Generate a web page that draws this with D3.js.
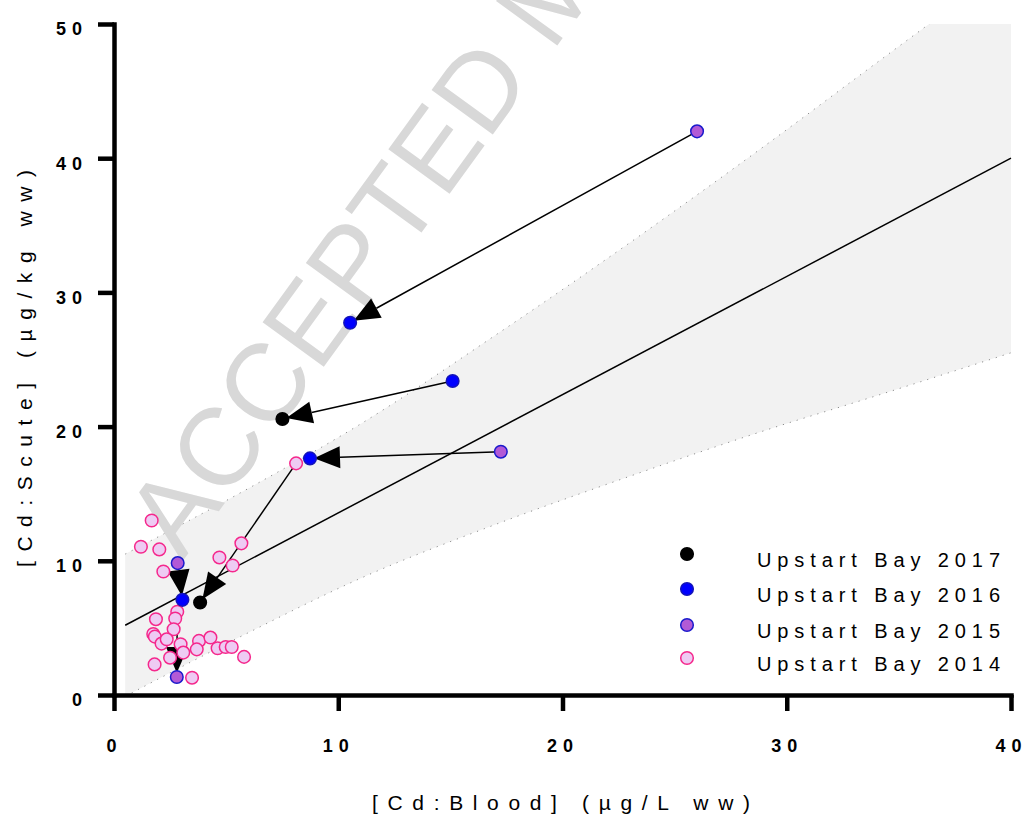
<!DOCTYPE html>
<html>
<head>
<meta charset="utf-8">
<script src="https://cdn.jsdelivr.net/npm/d3@7"></script>
<style>
  body { margin: 0; background: #fff; }
  svg { display: block; font-family: "Liberation Sans", Arial, sans-serif; }
</style>
</head>
<body>
<div id="chart"></div>
<script>
// values: [blood, scute]
const pts2017 = [[7.51, 20.57], [3.84, 6.89]];
const pts2016 = [[10.53, 27.74], [15.1, 23.4], [8.74, 17.63], [3.05, 7.09]];
const pts2015 = [[26.0, 42.0], [17.25, 18.13], [2.84, 9.83], [2.8, 1.34]];
const pts2014 = [
  [1.68, 13.0], [1.2, 11.05], [2.02, 10.85], [2.2, 9.2], [4.7, 10.25],
  [5.68, 11.3], [5.29, 9.65], [8.12, 17.26], [2.82, 6.2], [1.87, 5.65],
  [2.73, 5.7], [2.66, 4.9], [1.75, 4.55], [1.82, 4.35], [2.12, 3.83],
  [2.35, 4.15], [2.97, 3.78], [3.79, 4.03], [4.3, 4.28], [3.69, 3.4],
  [4.62, 3.48], [4.98, 3.58], [5.25, 3.58], [3.09, 3.16], [5.8, 2.84],
  [2.5, 2.78], [1.81, 2.28], [3.48, 1.29]
];

// same animal, earlier year -> later year
const moves = [
  [[26.0, 42.0], [10.53, 27.74]],
  [[15.1, 23.4], [7.51, 20.57]],
  [[17.25, 18.13], [8.74, 17.63]],
  [[8.12, 17.26], [3.84, 6.89]],
  [[2.84, 9.83], [3.05, 7.09]],
  [[2.82, 6.2], [2.8, 1.34]]
];

// regression line and prediction band
const fitLine = [[0.5, 5.2], [40, 40.0]];
const bandX = [0.5, 6, 11, 17, 23, 29, 34, 40];
const bandUpper = [10.5, 15.4, 20.2, 26.8, 33.7, 40.9, 47.1, 54.5];
const bandLower = [-0.1, 4.65, 8.7, 12.7, 16.3, 19.7, 22.3, 25.5];

const xTicks = [0, 10, 20, 30, 40];
const yTicks = [0, 10, 20, 30, 40, 50];

const seriesNames = ["Upstart Bay 2017", "Upstart Bay 2016", "Upstart Bay 2015", "Upstart Bay 2014"];

function drawChart() {
  const width = 1024;
  const height = 820;

  const svg = d3.select("#chart")
    .append("svg")
    .attr("width", width)
    .attr("height", height);

  const x = d3.scaleLinear().domain([0, 40]).range([114, 1011]);
  const y = d3.scaleLinear().domain([0, 50]).range([695, 24]);

  const styles = [
    { data: pts2017, fill: "#000000", stroke: "#000000" },
    { data: pts2016, fill: "#0000ff", stroke: "#1414b8" },
    { data: pts2015, fill: "#b25ad6", stroke: "#1a1acc" },
    { data: pts2014, fill: "#eecbf3", stroke: "#f5288c" }
  ];

  svg.append("clipPath")
    .attr("id", "plot-clip")
    .append("rect")
    .attr("x", x(0))
    .attr("y", y(50))
    .attr("width", x(40) - x(0) + 2)
    .attr("height", y(0) - y(50));

  const band = bandX.map((v, i) => ({ x: v, lo: bandLower[i], hi: bandUpper[i] }));

  // shaded band
  svg.append("path")
    .datum(band)
    .attr("clip-path", "url(#plot-clip)")
    .attr("fill", "#f2f2f2")
    .attr("d", d3.area()
      .x(d => x(d.x))
      .y0(d => y(d.lo))
      .y1(d => y(d.hi))
      .curve(d3.curveMonotoneX));

  // dotted band edges
  ["hi", "lo"].forEach(k => {
    svg.append("path")
      .datum(band)
      .attr("clip-path", "url(#plot-clip)")
      .attr("fill", "none")
      .attr("stroke", "#8c8c8c")
      .attr("stroke-width", 1)
      .attr("stroke-dasharray", "1.2,6")
      .attr("d", d3.line()
        .x(d => x(d.x))
        .y(d => y(d[k]))
        .curve(d3.curveMonotoneX));
  });

  // watermark
  svg.append("text")
    .attr("transform", "translate(182,562) rotate(-54)")
    .attr("fill", "#d8d8d8")
    .style("font-size", "110px")
    .text("ACCEPTED MANUSCRIPT");

  // fit line
  svg.append("path")
    .datum(fitLine)
    .attr("fill", "none")
    .attr("stroke", "#000")
    .attr("stroke-width", 1.5)
    .attr("d", d3.line().x(d => x(d[0])).y(d => y(d[1])));

  // arrows between years
  moves.forEach(m => {
    const x1 = x(m[0][0]), y1 = y(m[0][1]);
    const x2 = x(m[1][0]), y2 = y(m[1][1]);
    const len = Math.hypot(x2 - x1, y2 - y1);
    const ux = (x2 - x1) / len, uy = (y2 - y1) / len;
    const tx = x2 - ux * 4, ty = y2 - uy * 4;
    const bx = tx - ux * 26, by = ty - uy * 26;
    svg.append("line")
      .attr("x1", x1).attr("y1", y1)
      .attr("x2", bx).attr("y2", by)
      .attr("stroke", "#000")
      .attr("stroke-width", 1.5);
    svg.append("path")
      .attr("fill", "#000")
      .attr("d", `M${tx},${ty}L${bx - uy * 11},${by + ux * 11}L${bx + uy * 11},${by - ux * 11}Z`);
  });

  // points, oldest year first
  styles.slice().reverse().forEach(s => {
    svg.append("g")
      .selectAll("circle")
      .data(s.data)
      .join("circle")
      .attr("cx", d => x(d[0]))
      .attr("cy", d => y(d[1]))
      .attr("r", 6.3)
      .attr("fill", s.fill)
      .attr("stroke", s.stroke)
      .attr("stroke-width", 1.5);
  });

  // axes
  const yAxis = svg.append("g")
    .attr("transform", `translate(${x(0)},0)`)
    .call(d3.axisLeft(y).tickValues(yTicks).tickSize(16).tickSizeOuter(0).tickPadding(10));

  const xAxis = svg.append("g")
    .attr("transform", `translate(0,${y(0)})`)
    .call(d3.axisBottom(x).tickValues(xTicks).tickSize(16).tickSizeOuter(0).tickPadding(28));

  [xAxis, yAxis].forEach(g => {
    g.select(".domain").attr("stroke-width", 4.5).attr("stroke-linecap", "square");
    g.selectAll(".tick line").attr("stroke-width", 4.5);
    g.selectAll(".tick text")
      .attr("fill", "#000")
      .style("font-family", "'Liberation Sans', Arial, sans-serif")
      .style("font-size", "18px")
      .style("font-weight", "bold")
      .style("letter-spacing", "6px");
  });
  yAxis.selectAll(".tick text").attr("dy", "0.61em");

  // axis titles
  svg.append("text")
    .attr("x", 372)
    .attr("y", 810)
    .attr("textLength", 378)
    .attr("lengthAdjust", "spacing")
    .style("font-size", "21px")
    .text("[Cd:Blood] (µg/L ww)");

  svg.append("text")
    .attr("transform", "translate(32,567) rotate(-90)")
    .attr("textLength", 397)
    .attr("lengthAdjust", "spacing")
    .style("font-size", "21px")
    .text("[Cd:Scute] (µg/kg ww)");

  // legend
  const legendY = [554, 589, 625, 658];
  styles.forEach((s, i) => {
    svg.append("circle")
      .attr("cx", 687)
      .attr("cy", legendY[i])
      .attr("r", 6.3)
      .attr("fill", s.fill)
      .attr("stroke", s.stroke)
      .attr("stroke-width", 1.5);
    svg.append("text")
      .attr("x", 757)
      .attr("y", legendY[i] + 13)
      .attr("textLength", 243)
      .attr("lengthAdjust", "spacing")
      .style("font-size", "20px")
      .text(seriesNames[i]);
  });
}

window.onload = drawChart;
</script>
</body>
</html>
